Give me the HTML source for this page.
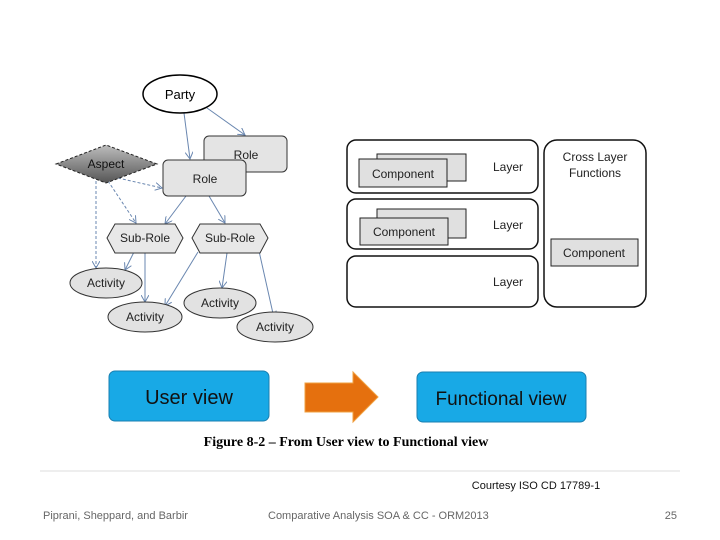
<!DOCTYPE html>
<html><head><meta charset="utf-8"><style>
body{margin:0;background:#fff;width:720px;height:540px;overflow:hidden}
svg{display:block}
text{font-family:"Liberation Sans",sans-serif}
</style></head><body>
<svg width="720" height="540" viewBox="0 0 720 540" xmlns="http://www.w3.org/2000/svg">
<defs>
<marker id="a" markerWidth="8" markerHeight="8" refX="7" refY="4" orient="auto" markerUnits="userSpaceOnUse"><path d="M0,0 L7,4 L0,8" fill="none" stroke="#6a87b0" stroke-width="1"/></marker>
<linearGradient id="g" x1="0" y1="0" x2="0" y2="1"><stop offset="0" stop-color="#bdbdbd"/><stop offset="1" stop-color="#555"/></linearGradient>
</defs>
<!-- left diagram connectors -->
<g stroke="#6a87b0" stroke-width="1" fill="none" marker-end="url(#a)">
<line x1="184" y1="113" x2="190" y2="159"/>
<line x1="207" y1="108" x2="245" y2="135"/>
<line x1="186" y1="196" x2="165" y2="224"/>
<line x1="209" y1="196" x2="225" y2="223"/>
<line x1="134" y1="252" x2="125" y2="270"/>
<line x1="145" y1="253" x2="145" y2="302"/>
<line x1="198" y1="252" x2="165" y2="306"/>
<line x1="227" y1="253" x2="222" y2="288"/>
<line x1="259" y1="251" x2="274" y2="318"/>
<g stroke-dasharray="3,2">
<line x1="96" y1="181" x2="96" y2="268"/>
<line x1="108" y1="181" x2="136" y2="223"/>
<line x1="118" y1="178" x2="162" y2="188"/>
</g>
</g>
<ellipse cx="180" cy="94" rx="37" ry="19" fill="#fff" stroke="#000" stroke-width="1.5"/>
<text x="180" y="99" font-size="13" text-anchor="middle">Party</text>
<rect x="204" y="136" width="83" height="36" rx="5" fill="#e4e4e4" stroke="#333"/>
<text x="246" y="159" font-size="12" text-anchor="middle" fill="#222">Role</text>
<rect x="163" y="160" width="83" height="36" rx="5" fill="#e4e4e4" stroke="#333"/>
<text x="205" y="183" font-size="12" text-anchor="middle" fill="#222">Role</text>
<polygon points="56,164 106,145 157,164 106,183" fill="url(#g)" stroke="#222" stroke-dasharray="3,2"/>
<text x="106" y="168" font-size="12" text-anchor="middle" fill="#111">Aspect</text>
<polygon points="107,238 115,224 175,224 183,238 175,253 115,253" fill="#e8e8e8" stroke="#333"/>
<text x="145" y="242" font-size="12" text-anchor="middle" fill="#222">Sub-Role</text>
<polygon points="192,238 200,224 260,224 268,238 260,253 200,253" fill="#e8e8e8" stroke="#333"/>
<text x="230" y="242" font-size="12" text-anchor="middle" fill="#222">Sub-Role</text>
<g fill="#e2e2e2" stroke="#333">
<ellipse cx="106" cy="283" rx="36" ry="15"/>
<ellipse cx="145" cy="317" rx="37" ry="15"/>
<ellipse cx="220" cy="303" rx="36" ry="15"/>
<ellipse cx="275" cy="327" rx="38" ry="15"/>
</g>
<g font-size="12" text-anchor="middle" fill="#222">
<text x="106" y="287">Activity</text>
<text x="145" y="321">Activity</text>
<text x="220" y="307">Activity</text>
<text x="275" y="331">Activity</text>
</g>
<!-- right diagram -->
<g fill="#fff" stroke="#111" stroke-width="1.5">
<rect x="347" y="140" width="191" height="53" rx="9"/>
<rect x="347" y="199" width="191" height="50" rx="9"/>
<rect x="347" y="256" width="191" height="51" rx="9"/>
<rect x="544" y="140" width="102" height="167" rx="13"/>
</g>
<g fill="#e0e0e0" stroke="#222">
<rect x="377" y="154" width="89" height="27"/>
<rect x="359" y="159" width="88" height="28"/>
<rect x="377" y="209" width="89" height="29"/>
<rect x="360" y="218" width="88" height="27"/>
<rect x="551" y="239" width="87" height="27"/>
</g>
<g font-size="12" fill="#222">
<text x="403" y="178" text-anchor="middle">Component</text>
<text x="404" y="236" text-anchor="middle">Component</text>
<text x="594" y="257" text-anchor="middle">Component</text>
<text x="508" y="171" text-anchor="middle">Layer</text>
<text x="508" y="229" text-anchor="middle">Layer</text>
<text x="508" y="286" text-anchor="middle">Layer</text>
<text x="595" y="161" text-anchor="middle">Cross Layer</text>
<text x="595" y="177" text-anchor="middle">Functions</text>
</g>
<!-- bottom -->
<rect x="109" y="371" width="160" height="50" rx="6" fill="#18a9e6" stroke="#1a7fb0"/>
<text x="189" y="404" font-size="20" text-anchor="middle" fill="#111">User  view</text>
<polygon points="305,383 353,383 353,372 378,397 353,422 353,412 305,412" fill="#e5700e" stroke="#f0a040"/>
<rect x="417" y="372" width="169" height="50" rx="6" fill="#18a9e6" stroke="#1a7fb0"/>
<text x="501" y="405" font-size="19" text-anchor="middle" fill="#111">Functional  view</text>
<text x="346" y="446" font-size="14" font-weight="bold" text-anchor="middle" font-family="Liberation Serif,serif" style="font-family:'Liberation Serif',serif">Figure 8-2 – From User view to Functional view</text>
<line x1="40" y1="471" x2="680" y2="471" stroke="#ddd"/>
<text x="536" y="489" font-size="11" text-anchor="middle" fill="#111">Courtesy ISO CD 17789-1</text>
<g font-size="11" fill="#666">
<text x="43" y="519">Piprani,  Sheppard, and  Barbir</text>
<text x="268" y="519">Comparative Analysis SOA &amp; CC - ORM2013</text>
<text x="677" y="519" text-anchor="end">25</text>
</g>
</svg>
</body></html>
